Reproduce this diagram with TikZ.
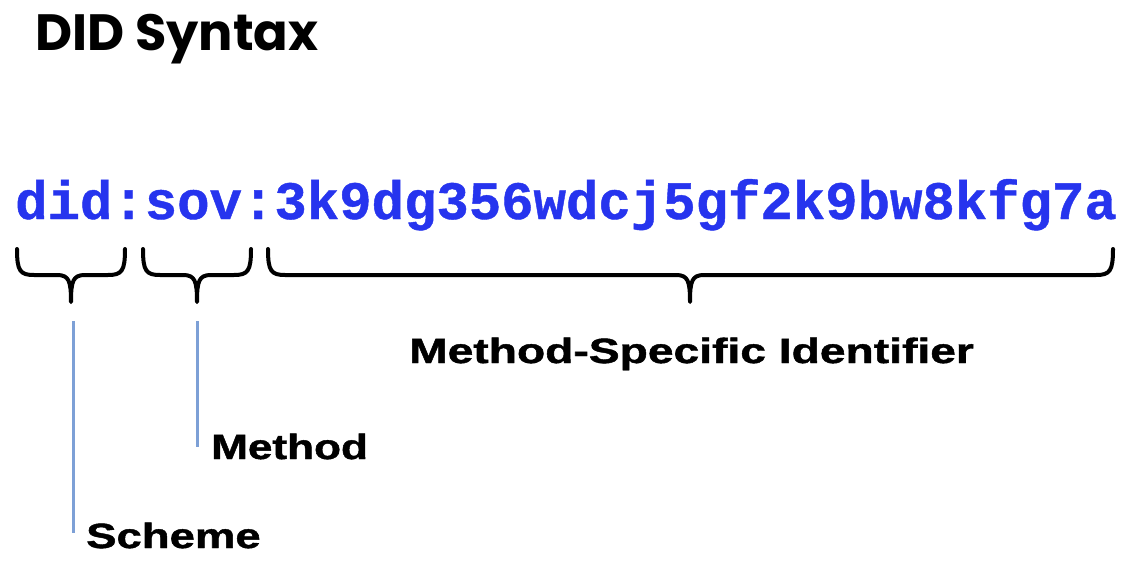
\documentclass[tikz,border=0pt]{standalone}
\usepackage{fontspec}
\setmainfont{Liberation Sans}
\newfontfamily\titlefont{Poppins Bold}
\newfontfamily\codefont{Liberation Mono Bold}[FakeBold=0.8]
\newfontfamily\heavyfont{Liberation Sans Bold}[FakeBold=1.2]
\definecolor{didblue}{RGB}{38,52,238}
\definecolor{leadblue}{RGB}{125,160,214}
\tikzset{
  bracepath/.style={draw=black,line width=4pt,line cap=round,line join=round},
  leader/.style={draw=leadblue,line width=3pt},
  labeltext/.style={font=\heavyfont\fontsize{35}{40}\selectfont,anchor=base west,inner sep=0pt,text=black},
}
\newcommand{\mybrace}[4]{% name, L, R, M
  \draw[bracepath] (#2,249) .. controls (#2,271) and (#2+3,275) .. (#2+17,275)
     -- (#4-14,275) .. controls (#4-2,275) and (#4,281) .. (#4,302)
     .. controls (#4,281) and (#4+2,275) .. (#4+14,275)
     -- (#3-17,275) .. controls (#3-3,275) and (#3,271) .. (#3,249);
  \coordinate (#1) at (#4,302);
}
\begin{document}
\begin{tikzpicture}[x=1pt,y=-1pt]
\useasboundingbox (0,0) rectangle (1135,567);
\fill[white] (0,0) rectangle (1135,567);
\node[anchor=base west,inner sep=0pt,font=\titlefont\fontsize{51}{55}\selectfont] (title) at (35,51) {DID Syntax};
\node[anchor=base west,inner sep=0pt,text=didblue,font=\codefont\fontsize{54}{60}\selectfont] (did) at (15,219) {did:sov:3k9dg356wdcj5gf2k9bw8kfg7a};
\mybrace{b1}{17}{125}{71}
\mybrace{b2}{143}{251}{197}
\mybrace{b3}{268}{1113}{690}
\node[labeltext] (msi) at (409,363) {\scalebox{1.32}[1]{Method-Specific Identifier}};
\node[labeltext] (method) at (211,459) {\scalebox{1.26}[1]{Method}};
\node[labeltext] (scheme) at (86,548) {\scalebox{1.3}[1]{Scheme}};
\coordinate (s1) at (73,321);
\coordinate (s2) at (73,533);
\coordinate (m1) at (197,321);
\coordinate (m2) at (197,447);
\draw[leader] (s1) -- (s2);
\draw[leader] (m1) -- (m2);
\end{tikzpicture}
\end{document}
